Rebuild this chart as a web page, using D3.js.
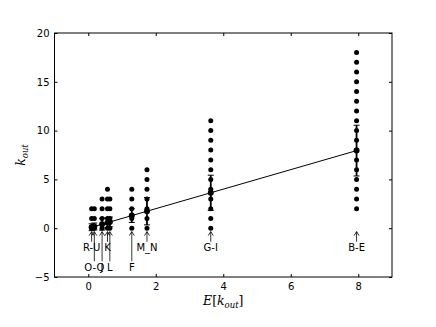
<!DOCTYPE html>
<html lang="en">
<head>
  <meta charset="UTF-8">
  <title>k_out vs E[k_out]</title>
  <script src="https://d3js.org/d3.v7.min.js"></script>
  <style>
    body { margin: 0; background: #fff; font-family: "DejaVu Sans", sans-serif; }
    .tick text { font-size: 10px; font-family: "DejaVu Sans", sans-serif; }
    .lbl { font-size: 10px; font-family: "DejaVu Sans", sans-serif; }
    .math { font-family: "DejaVu Serif", serif; font-style: italic; font-size: 12.5px; }
  </style>
</head>
<body>
<div id="chart"></div>
<script>
  // groups: label, mean E[k_out], std, label row (1 = upper, 2 = lower)
  var labels = ["R-U", "O-Q", "J", "K", "L", "F", "M_N", "G-I", "B-E"];
  var means = [0.10, 0.18, 0.41, 0.57, 0.64, 1.29, 1.74, 3.63, 7.95];
  var stds = [0.35, 0.35, 0.6, 0.5, 0.5, 0.7, 1.4, 1.8, 2.6];
  var rows = [1, 2, 2, 1, 2, 2, 1, 1, 1];
  // observed k_out values per group
  var dots = [
    [0, 1, 2],
    [0, 1, 2],
    [0, 1, 2, 3],
    [0, 1, 2, 3, 4],
    [0, 1, 2, 3],
    [0, 1, 2, 3, 4],
    [0, 1, 2, 3, 4, 5, 6],
    [0, 1, 2, 3, 4, 5, 6, 7, 8, 9, 10, 11],
    [2, 3, 4, 5, 6, 7, 8, 9, 10, 11, 12, 13, 14, 15, 16, 17, 18]
  ];
  var xTicks = [0, 2, 4, 6, 8];
  var yTicks = [-5, 0, 5, 10, 15, 20];

  var width = 436, height = 327;
  var margin = {left: 54.5, right: 44, top: 33, bottom: 50};

  var svg = d3.select("#chart").append("svg")
    .attr("width", width)
    .attr("height", height);

  var x = d3.scaleLinear().domain([-1, 9]).range([margin.left, width - margin.right]);
  var y = d3.scaleLinear().domain([-5, 20]).range([height - margin.bottom, margin.top]);

  // axes with inward ticks on all four sides
  svg.append("g")
    .attr("transform", "translate(0," + y(-5) + ")")
    .call(d3.axisBottom(x).tickValues(xTicks).tickSizeInner(-3).tickSizeOuter(0).tickPadding(6))
    .call(g => g.select(".domain").remove());
  svg.append("g")
    .attr("transform", "translate(0," + y(20) + ")")
    .call(d3.axisTop(x).tickValues(xTicks).tickSizeInner(-3).tickSizeOuter(0).tickFormat(""))
    .call(g => g.select(".domain").remove());
  svg.append("g")
    .attr("transform", "translate(" + x(-1) + ",0)")
    .call(d3.axisLeft(y).tickValues(yTicks).tickSizeInner(-3).tickSizeOuter(0).tickPadding(5)
      .tickFormat(d => d < 0 ? "\u2212" + Math.abs(d) : d))
    .call(g => g.select(".domain").remove());
  svg.append("g")
    .attr("transform", "translate(" + x(9) + ",0)")
    .call(d3.axisRight(y).tickValues(yTicks).tickSizeInner(-3).tickSizeOuter(0).tickFormat(""))
    .call(g => g.select(".domain").remove());

  svg.append("rect")
    .attr("x", x(-1)).attr("y", y(20))
    .attr("width", x(9) - x(-1)).attr("height", y(-5) - y(20))
    .attr("fill", "none").attr("stroke", "#000").attr("stroke-width", 1);

  // y = x reference line
  svg.append("line")
    .attr("x1", x(d3.min(means))).attr("y1", y(d3.min(means)))
    .attr("x2", x(d3.max(means))).attr("y2", y(d3.max(means)))
    .attr("stroke", "#000").attr("stroke-width", 1);

  var groups = labels.map((l, i) => ({label: l, mean: means[i], std: stds[i], row: rows[i], ks: dots[i]}));

  // scatter points
  groups.forEach(function(g) {
    svg.append("g").selectAll("circle")
      .data(g.ks)
      .enter().append("circle")
      .attr("cx", x(g.mean))
      .attr("cy", d => y(d))
      .attr("r", 2.5)
      .attr("fill", "#000");
  });

  // error bars
  var eb = svg.append("g").attr("stroke", "#000").attr("stroke-width", 1.8);
  groups.forEach(function(g) {
    var cx = x(g.mean);
    eb.append("line").attr("x1", cx).attr("x2", cx).attr("y1", y(g.mean - g.std)).attr("y2", y(g.mean + g.std));
    [g.mean - g.std, g.mean + g.std].forEach(function(v) {
      eb.append("line").attr("x1", cx - 3).attr("x2", cx + 3).attr("y1", y(v)).attr("y2", y(v)).attr("stroke-width", 1);
    });
    svg.append("circle").attr("cx", cx).attr("cy", y(g.mean)).attr("r", 3).attr("fill", "#000");
  });

  // annotation arrows and labels
  var ann = svg.append("g");
  groups.forEach(function(g) {
    var cx = x(g.mean);
    var ty = g.row === 1 ? -2 : -4;
    var tip = y(-0.35);
    var start = y(ty) - 6;
    ann.append("line").attr("x1", cx).attr("x2", cx).attr("y1", start).attr("y2", tip)
      .attr("stroke", "#000").attr("stroke-width", 0.8);
    ann.append("path")
      .attr("d", "M" + (cx - 2.5) + "," + (tip + 4) + "L" + cx + "," + tip + "L" + (cx + 2.5) + "," + (tip + 4))
      .attr("fill", "none").attr("stroke", "#000").attr("stroke-width", 0.8);
    ann.append("text").attr("class", "lbl")
      .attr("x", cx).attr("y", y(ty) + 3.6)
      .attr("text-anchor", "middle")
      .text(g.label);
  });

  // axis labels
  var xl = svg.append("text").attr("class", "math")
    .attr("x", (x(-1) + x(9)) / 2).attr("y", 305)
    .attr("text-anchor", "middle");
  xl.append("tspan").text("E");
  xl.append("tspan").attr("font-style", "normal").text("[");
  xl.append("tspan").text("k");
  xl.append("tspan").attr("font-size", "8.5px").attr("dy", 3).text("out");
  xl.append("tspan").attr("font-style", "normal").attr("dy", -3).text("]");

  var yl = svg.append("text").attr("class", "math")
    .attr("transform", "translate(25," + ((y(20) + y(-5)) / 2) + ") rotate(-90)")
    .attr("text-anchor", "middle");
  yl.append("tspan").text("k");
  yl.append("tspan").attr("font-size", "8.5px").attr("dy", 3).text("out");
</script>
</body>
</html>
